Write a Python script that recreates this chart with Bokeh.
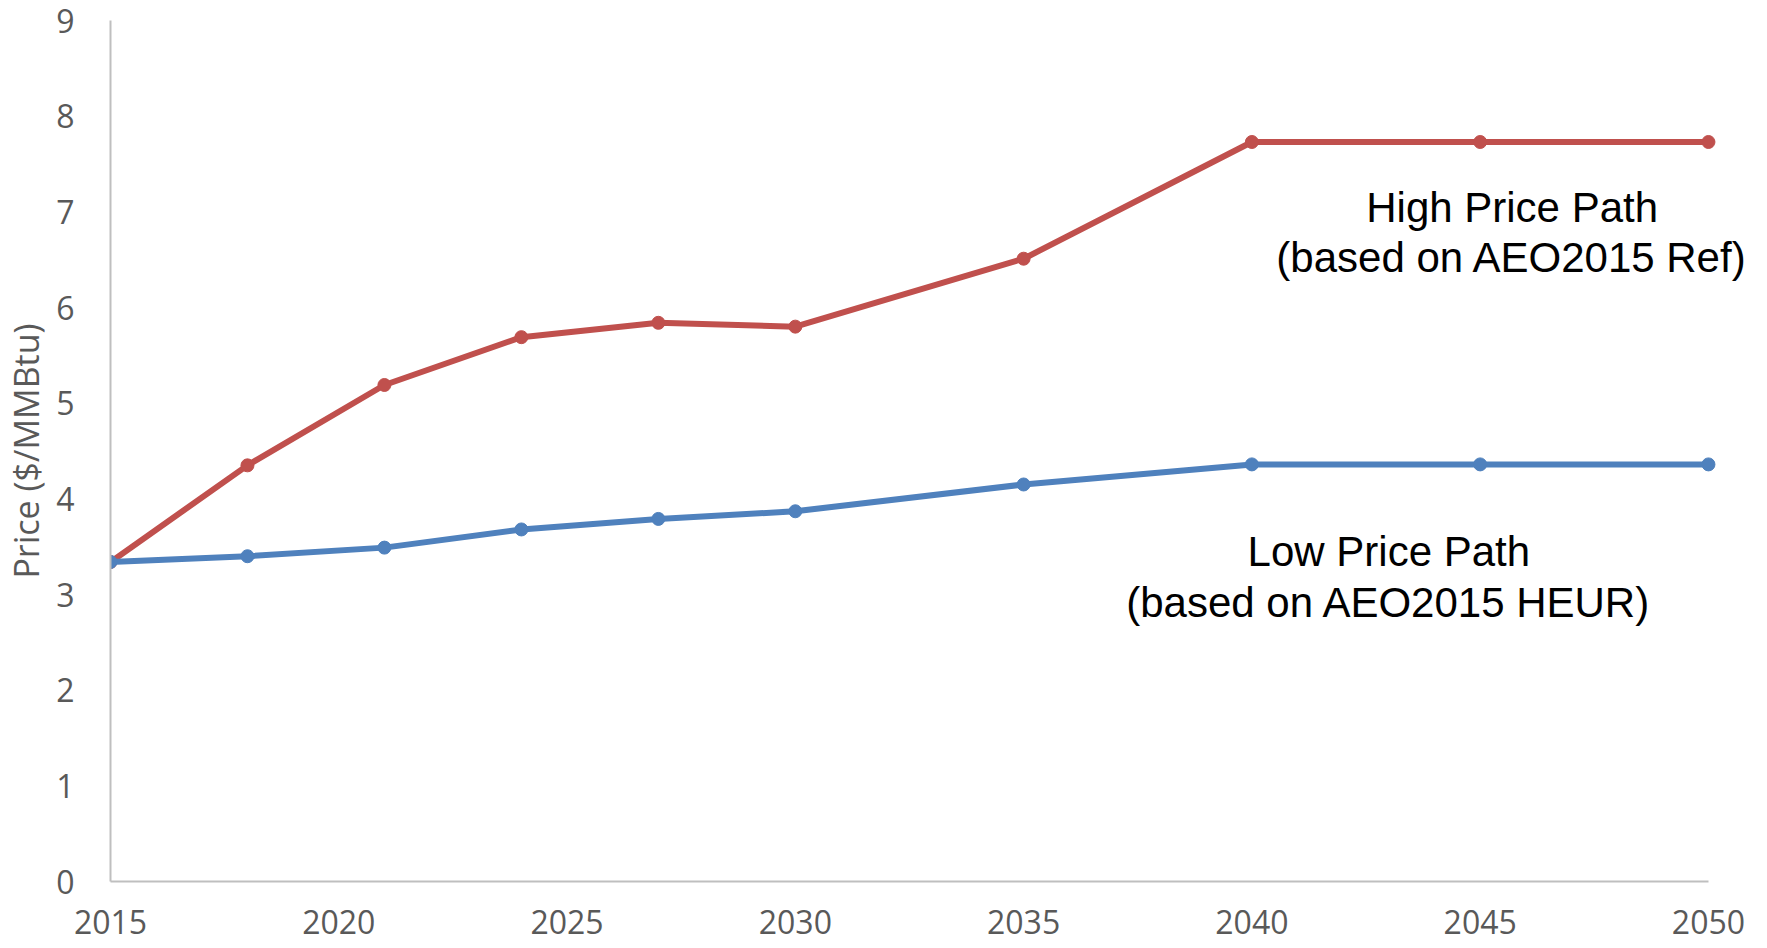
from bokeh.plotting import figure
from bokeh.models import Label, FixedTicker, Range1d
from bokeh.embed import file_html
from bokeh.resources import INLINE

years = [2015, 2018, 2021, 2024, 2027, 2030, 2035, 2040, 2045, 2050]
high_price = [3.34, 4.35, 5.19, 5.69, 5.84, 5.80, 6.51, 7.73, 7.73, 7.73]
low_price = [3.34, 3.40, 3.49, 3.68, 3.79, 3.87, 4.15, 4.36, 4.36, 4.36]
x_ticks = [2015, 2020, 2025, 2030, 2035, 2040, 2045, 2050]
y_ticks = [0, 1, 2, 3, 4, 5, 6, 7, 8, 9]

RED = "#C0504D"
BLUE = "#4F81BD"
GREY_TXT = "#595959"
AXIS = "#BFBFBF"

p = figure(width=1767, height=948, output_backend="svg", toolbar_location=None,
           x_range=Range1d(2015, 2051.14), y_range=Range1d(0, 9),
           min_border_left=109, min_border_right=7, min_border_top=20, min_border_bottom=67)
p.outline_line_color = None
p.xgrid.grid_line_color = None
p.ygrid.grid_line_color = None

p.line(years, high_price, line_color=RED, line_width=6)
p.scatter(years, high_price, size=13, fill_color=RED, line_color=RED)
p.line(years, low_price, line_color=BLUE, line_width=6)
p.scatter(years, low_price, size=13, fill_color=BLUE, line_color=BLUE)

p.xaxis.ticker = FixedTicker(ticks=x_ticks)
p.yaxis.ticker = FixedTicker(ticks=y_ticks)
p.xaxis.bounds = (2015, 2050)
p.yaxis.bounds = (0, 9)
for ax in (p.xaxis, p.yaxis):
    ax.axis_line_color = AXIS
    ax.axis_line_width = 2
    ax.major_tick_line_color = None
    ax.minor_tick_line_color = None
    ax.major_label_text_font = "Open Sans"
    ax.major_label_text_font_size = "32px"
    ax.major_label_text_color = GREY_TXT
p.xaxis.major_label_standoff = 22
p.yaxis.major_label_standoff = 30
p.yaxis.axis_label = "Price ($/MMBtu)"
p.yaxis.axis_label_text_font = "Open Sans"
p.yaxis.axis_label_text_font_size = "34px"
p.yaxis.axis_label_text_font_style = "normal"
p.yaxis.axis_label_text_color = GREY_TXT
p.yaxis.axis_label_standoff = 4

annotations = [
    ("High Price Path", 2045.7, 7.05),
    ("(based on AEO2015 Ref)", 2045.7, 6.52),
    ("Low Price Path", 2043.0, 3.45),
    ("(based on AEO2015 HEUR)", 2043.0, 2.92),
]
for txt, xx, yy in annotations:
    p.add_layout(Label(x=xx, y=yy, text=txt, text_align="center", text_baseline="middle",
                       text_font="Liberation Sans", text_font_size="42px", text_color="#000000"))

open("out.html", "w").write(file_html(p, INLINE))
